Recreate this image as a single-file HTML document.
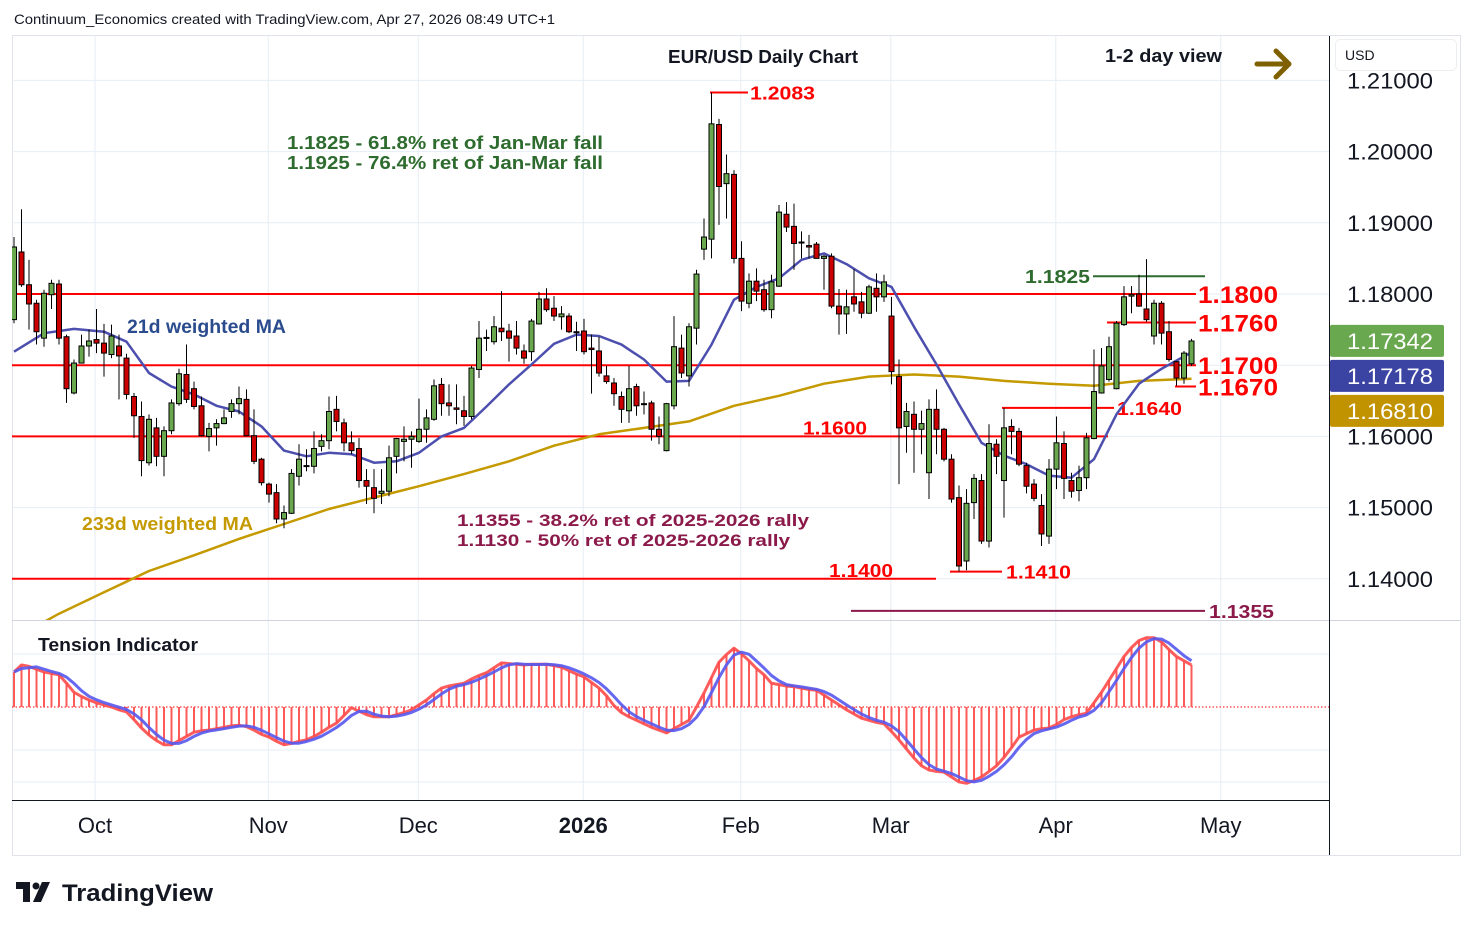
<!DOCTYPE html>
<html><head><meta charset="utf-8">
<style>
body{margin:0;background:#fff;}
svg{display:block;font-family:"Liberation Sans",sans-serif;}
</style></head>
<body>
<svg id="chart" width="1474" height="930" viewBox="0 0 1474 930" xmlns="http://www.w3.org/2000/svg">
  <rect x="0" y="0" width="1474" height="930" fill="#fff"/>
  <text x="14" y="24" font-size="14" fill="#131722" textLength="541" lengthAdjust="spacingAndGlyphs">Continuum_Economics created with TradingView.com, Apr 27, 2026 08:49 UTC+1</text>
  <rect x="12.5" y="35.5" width="1448" height="820" fill="none" stroke="#e0e3eb"/>
  <g id="grid"></g>
  <g id="levels"></g>
  <g id="pricePane" clip-path="url(#clipPrice)"></g>
  <g id="tensionPane" clip-path="url(#clipTension)"></g>
  <defs>
    <clipPath id="clipPrice"><rect x="12" y="36" width="1317" height="584"/></clipPath>
    <clipPath id="clipTension"><rect x="12" y="628" width="1317" height="172"/></clipPath>
  </defs>
  <line x1="12" y1="620.5" x2="1460" y2="620.5" stroke="#d1d4dc" stroke-width="1"/>
  <line x1="12" y1="800.5" x2="1329" y2="800.5" stroke="#131722" stroke-width="1"/>
  <line x1="1329.5" y1="36" x2="1329.5" y2="855" stroke="#131722" stroke-width="1"/>
  <g id="axisLabels"></g>
  <g id="timeAxis"></g>
  <g id="annotations">
    <text x="668" y="63" font-size="18" font-weight="bold" textLength="190" lengthAdjust="spacingAndGlyphs" fill="#131722">EUR/USD Daily Chart</text>
    <text x="1105" y="62" font-size="18" font-weight="bold" textLength="117" lengthAdjust="spacingAndGlyphs" fill="#131722">1-2 day view</text>
    <g stroke="#7f6000" stroke-width="5" stroke-linecap="round" stroke-linejoin="round" fill="none">
      <line x1="1257" y1="64" x2="1288" y2="64"/><polyline points="1276,51 1289,64 1276,77"/>
    </g>
    <text x="287" y="149" font-size="18" font-weight="bold" textLength="316" lengthAdjust="spacingAndGlyphs" fill="#2e6b2e">1.1825 - 61.8% ret of Jan-Mar fall</text>
    <text x="287" y="169" font-size="18" font-weight="bold" textLength="316" lengthAdjust="spacingAndGlyphs" fill="#2e6b2e">1.1925 - 76.4% ret of Jan-Mar fall</text>
    <text x="127" y="333" font-size="19" font-weight="bold" textLength="159" lengthAdjust="spacingAndGlyphs" fill="#2a4b8d">21d weighted MA</text>
    <text x="82" y="530" font-size="18" font-weight="bold" textLength="171" lengthAdjust="spacingAndGlyphs" fill="#c49a00">233d weighted MA</text>
    <text x="457" y="526" font-size="17" font-weight="bold" textLength="352" lengthAdjust="spacingAndGlyphs" fill="#8b1a4a">1.1355 - 38.2% ret of 2025-2026 rally</text>
    <text x="457" y="546" font-size="17" font-weight="bold" textLength="333" lengthAdjust="spacingAndGlyphs" fill="#8b1a4a">1.1130 - 50% ret of 2025-2026 rally</text>
    <text x="38" y="651" font-size="18" font-weight="bold" textLength="160" lengthAdjust="spacingAndGlyphs" fill="#131722">Tension Indicator</text>
  </g>
  <g>
    <rect x="1335.5" y="39.5" width="121" height="31" rx="5" fill="#fff" stroke="#eceef2"/>
    <text x="1345" y="60" font-size="14" fill="#131722">USD</text>
  </g>
  <g>
    <path d="M16 882 h14 v20 h-7 v-13 h-7z" fill="#131722"/>
    <circle cx="36" cy="886" r="3.5" fill="#131722"/>
    <path d="M42 882 h8 l-9 20 h-8z" fill="#131722"/>
    <text x="62" y="901" font-size="24" font-weight="bold" textLength="151" lengthAdjust="spacingAndGlyphs" fill="#131722">TradingView</text>
  </g>
</svg>
<script>
// ---- data ----
const candleOHLC = [
[1.1764,1.1880,1.1759,1.1866],[1.1859,1.1919,1.1810,1.1813],[1.1813,1.1848,1.1750,1.1786],[1.1787,1.1792,1.1729,1.1747],
[1.1738,1.1806,1.1726,1.1801],[1.1799,1.1820,1.1779,1.1815],[1.1814,1.1820,1.1729,1.1738],[1.1740,1.1743,1.1647,1.1667],
[1.1661,1.1708,1.1659,1.1703],[1.1703,1.1743,1.1703,1.1727],[1.1727,1.1750,1.1712,1.1734],[1.1736,1.1779,1.1717,1.1731],
[1.1731,1.1758,1.1684,1.1717],[1.1715,1.1757,1.1710,1.1741],[1.1727,1.1743,1.1652,1.1713],[1.1710,1.1716,1.1652,1.1659],
[1.1656,1.1661,1.1598,1.1629],[1.1628,1.1649,1.1544,1.1566],[1.1563,1.1631,1.1559,1.1624],[1.1612,1.1626,1.1558,1.1572],
[1.1572,1.1614,1.1544,1.1608],[1.1608,1.1652,1.1603,1.1647],[1.1646,1.1695,1.1643,1.1688],[1.1687,1.1729,1.1647,1.1652],
[1.1667,1.1677,1.1638,1.1642],[1.1643,1.1656,1.1600,1.1601],[1.1600,1.1619,1.1579,1.1611],[1.1612,1.1624,1.1587,1.1618],
[1.1618,1.1638,1.1617,1.1626],[1.1635,1.1652,1.1626,1.1646],[1.1646,1.1670,1.1631,1.1653],[1.1652,1.1666,1.1600,1.1601],
[1.1601,1.1638,1.1561,1.1565],[1.1568,1.1570,1.1531,1.1535],[1.1533,1.1535,1.1507,1.1519],[1.1521,1.1533,1.1478,1.1484],
[1.1484,1.1503,1.1471,1.1493],[1.1492,1.1554,1.1491,1.1548],[1.1544,1.1589,1.1531,1.1568],[1.1558,1.1582,1.1551,1.1559],
[1.1558,1.1607,1.1548,1.1583],[1.1586,1.1603,1.1579,1.1594],[1.1594,1.1656,1.1582,1.1635],[1.1638,1.1657,1.1607,1.1621],
[1.1619,1.1625,1.1579,1.1591],[1.1591,1.1607,1.1575,1.1580],[1.1583,1.1598,1.1528,1.1538],[1.1538,1.1554,1.1505,1.1530],
[1.1528,1.1554,1.1492,1.1513],[1.1520,1.1554,1.1505,1.1523],[1.1523,1.1587,1.1516,1.1570],[1.1572,1.1598,1.1548,1.1597],
[1.1593,1.1614,1.1565,1.1596],[1.1596,1.1607,1.1556,1.1600],[1.1593,1.1653,1.1591,1.1610],[1.1610,1.1638,1.1591,1.1626],
[1.1624,1.1680,1.1622,1.1671],[1.1673,1.1682,1.1629,1.1646],[1.1647,1.1673,1.1629,1.1643],[1.1640,1.1673,1.1617,1.1638],
[1.1636,1.1657,1.1615,1.1628],[1.1628,1.1699,1.1624,1.1696],[1.1694,1.1762,1.1682,1.1738],[1.1738,1.1750,1.1720,1.1739],
[1.1733,1.1769,1.1729,1.1754],[1.1752,1.1804,1.1734,1.1747],[1.1748,1.1758,1.1705,1.1738],[1.1741,1.1762,1.1715,1.1724],
[1.1720,1.1729,1.1702,1.1710],[1.1719,1.1765,1.1706,1.1762],[1.1758,1.1803,1.1757,1.1793],[1.1793,1.1808,1.1775,1.1778],
[1.1780,1.1797,1.1762,1.1769],[1.1768,1.1783,1.1750,1.1772],[1.1769,1.1773,1.1745,1.1747],[1.1747,1.1761,1.1720,1.1747],
[1.1748,1.1765,1.1715,1.1719],[1.1724,1.1743,1.1660,1.1722],[1.1720,1.1740,1.1684,1.1689],[1.1685,1.1699,1.1674,1.1677],
[1.1675,1.1682,1.1643,1.1660],[1.1656,1.1663,1.1619,1.1638],[1.1636,1.1699,1.1619,1.1667],[1.1670,1.1674,1.1629,1.1643],
[1.1646,1.1663,1.1631,1.1645],[1.1647,1.1650,1.1594,1.1610],[1.1610,1.1628,1.1589,1.1600],[1.1580,1.1647,1.1579,1.1646],
[1.1643,1.1769,1.1638,1.1726],[1.1724,1.1743,1.1682,1.1689],[1.1685,1.1759,1.1670,1.1754],[1.1752,1.1834,1.1729,1.1828],
[1.1863,1.1906,1.1848,1.1880],[1.1877,1.2083,1.1850,1.2039],[1.2038,1.2046,1.1897,1.1951],[1.1955,1.1996,1.1906,1.1969],
[1.1968,1.1974,1.1843,1.1850],[1.1850,1.1874,1.1776,1.1790],[1.1787,1.1829,1.1780,1.1818],[1.1818,1.1836,1.1790,1.1804],
[1.1806,1.1820,1.1775,1.1778],[1.1778,1.1827,1.1766,1.1817],[1.1811,1.1925,1.1810,1.1915],[1.1912,1.1929,1.1887,1.1894],
[1.1895,1.1927,1.1834,1.1871],[1.1872,1.1888,1.1850,1.1873],[1.1868,1.1883,1.1850,1.1866],[1.1870,1.1873,1.1850,1.1850],
[1.1850,1.1855,1.1806,1.1853],[1.1853,1.1857,1.1780,1.1783],[1.1783,1.1807,1.1743,1.1772],[1.1772,1.1806,1.1744,1.1782],
[1.1796,1.1835,1.1775,1.1786],[1.1789,1.1803,1.1766,1.1773],[1.1773,1.1813,1.1772,1.1810],[1.1808,1.1829,1.1775,1.1796],
[1.1796,1.1827,1.1789,1.1817],[1.1769,1.1796,1.1673,1.1691],[1.1684,1.1708,1.1533,1.1612],[1.1614,1.1647,1.1577,1.1635],
[1.1631,1.1649,1.1549,1.1610],[1.1610,1.1636,1.1575,1.1618],[1.1549,1.1652,1.1512,1.1638],[1.1638,1.1666,1.1575,1.1610],
[1.1610,1.1612,1.1565,1.1568],[1.1568,1.1575,1.1507,1.1512],[1.1514,1.1531,1.1410,1.1418],[1.1425,1.1526,1.1412,1.1506],
[1.1507,1.1547,1.1484,1.1541],[1.1538,1.1547,1.1449,1.1453],[1.1453,1.1617,1.1444,1.1590],[1.1589,1.1596,1.1547,1.1572],
[1.1538,1.1640,1.1486,1.1612],[1.1614,1.1624,1.1575,1.1607],[1.1607,1.1612,1.1558,1.1561],[1.1559,1.1563,1.1520,1.1530],
[1.1533,1.1540,1.1509,1.1513],[1.1503,1.1519,1.1446,1.1463],[1.1460,1.1568,1.1449,1.1554],[1.1554,1.1628,1.1526,1.1591],
[1.1590,1.1607,1.1512,1.1541],[1.1538,1.1549,1.1514,1.1523],[1.1524,1.1559,1.1509,1.1542],[1.1542,1.1605,1.1526,1.1598],
[1.1597,1.1722,1.1596,1.1663],[1.1661,1.1724,1.1660,1.1699],[1.1680,1.1740,1.1677,1.1726],[1.1667,1.1762,1.1666,1.1759],
[1.1757,1.1811,1.1755,1.1796],[1.1797,1.1811,1.1773,1.1799],[1.1800,1.1827,1.1782,1.1783],[1.1779,1.1849,1.1761,1.1764],
[1.1741,1.1792,1.1729,1.1787],[1.1787,1.1790,1.1729,1.1745],[1.1747,1.1762,1.1705,1.1708],[1.1705,1.1706,1.1671,1.1682],
[1.1682,1.1720,1.1674,1.1717],[1.1702,1.1737,1.1699,1.1734]
];
const ma21Index = [0,4,8,12,15,18,21,24,27,30,33,36,39,42,45,48,51,54,57,60,63,66,69,72,75,78,81,84,87,90,93,96,99,102,105,108,111,114,117,120,123,126,129,132,135,138,141,144,147,150,153,157];
const ma21Value = [1.1719,1.1745,1.1751,1.1747,1.1733,1.1689,1.1670,1.1659,1.1643,1.1635,1.1614,1.1580,1.1572,1.1577,1.1575,1.1563,1.1565,1.1577,1.1600,1.1612,1.1642,1.1673,1.1701,1.1730,1.1743,1.1741,1.1729,1.1708,1.1677,1.1678,1.1729,1.1792,1.1810,1.1822,1.1848,1.1857,1.1842,1.1822,1.1810,1.1754,1.1701,1.1645,1.1591,1.1573,1.1561,1.1545,1.1542,1.1568,1.1631,1.1674,1.1695,1.1718];
const ma233Index = [0,6,12,18,24,30,36,42,48,54,60,66,72,78,84,90,96,102,108,114,120,126,132,138,144,150,157];
const ma233Value = [1.1316,1.1351,1.1381,1.1411,1.1433,1.1456,1.1477,1.1498,1.1514,1.1530,1.1547,1.1565,1.1587,1.1603,1.1612,1.1621,1.1643,1.1657,1.1674,1.1684,1.1687,1.1684,1.1678,1.1674,1.1671,1.1678,1.1681];
const tensionValue = [0.50,0.60,0.58,0.54,0.50,0.48,0.46,0.34,0.21,0.15,0.10,0.06,0.03,0.00,-0.04,-0.07,-0.18,-0.30,-0.40,-0.48,-0.54,-0.54,-0.48,-0.42,-0.36,-0.34,-0.33,-0.31,-0.29,-0.27,-0.26,-0.28,-0.33,-0.39,-0.43,-0.49,-0.54,-0.52,-0.49,-0.47,-0.42,-0.36,-0.29,-0.23,-0.12,-0.01,-0.06,-0.11,-0.14,-0.14,-0.14,-0.11,-0.08,-0.04,0.03,0.10,0.19,0.27,0.30,0.32,0.34,0.40,0.45,0.49,0.56,0.63,0.62,0.61,0.60,0.61,0.61,0.61,0.59,0.57,0.52,0.47,0.43,0.35,0.27,0.16,0.02,-0.08,-0.14,-0.19,-0.24,-0.29,-0.33,-0.37,-0.31,-0.25,-0.19,0.00,0.20,0.42,0.64,0.75,0.84,0.76,0.66,0.55,0.46,0.34,0.32,0.30,0.29,0.27,0.25,0.24,0.17,0.10,0.03,-0.04,-0.10,-0.16,-0.19,-0.22,-0.24,-0.35,-0.47,-0.60,-0.73,-0.84,-0.90,-0.92,-0.93,-1.00,-1.07,-1.09,-1.05,-1.00,-0.92,-0.84,-0.72,-0.58,-0.43,-0.38,-0.33,-0.31,-0.30,-0.25,-0.18,-0.14,-0.11,-0.09,0.06,0.21,0.38,0.55,0.72,0.85,0.95,0.99,0.99,0.93,0.82,0.72,0.66,0.60];
const priceTicks = [1.21,1.20,1.19,1.18,1.16,1.15,1.14];
const priceTickLabels = ["1.21000","1.20000","1.19000","1.18000","1.16000","1.15000","1.14000"];
const gridPrices = [1.21,1.20,1.19,1.18,1.17,1.16,1.15,1.14];
const monthIndex = [10.8,33.9,53.9,75.9,96.9,116.9,138.9,160.9];
const monthLabels = ["Oct","Nov","Dec","2026","Feb","Mar","Apr","May"];
const lastValues = [1.17342,1.17178,1.16810];
const lastValueColors = ["#6aa84f","#3c44a3","#c29300"];

// ---- scales ----
const NS = "http://www.w3.org/2000/svg";
function xOf(i){ return 14 + 7.5*i; }
function yOf(p){ return 294 + (1.18 - p)*7120; }
function tY(v){ return 707 - v*70; }
function mk(tag, attrs, parent){
  const e = document.createElementNS(NS, tag);
  for (const k in attrs) e.setAttribute(k, attrs[k]);
  parent.appendChild(e); return e;
}
const grid = document.getElementById('grid');
const pane = document.getElementById('pricePane');
const tpane = document.getElementById('tensionPane');
const levels = document.getElementById('levels');
const axisL = document.getElementById('axisLabels');
const timeAx = document.getElementById('timeAxis');

// grid
gridPrices.forEach(p=>{
  const l = mk('line',{x1:12,x2:1329,y1:yOf(p),y2:yOf(p),stroke:'#e6edf4','stroke-width':1},grid);
  
  
});
[654,750,782].forEach(y=>{
  const l = mk('line',{x1:12,x2:1329,y1:y,y2:y,stroke:'#e6edf4','stroke-width':1},grid);
  
  
});
monthIndex.forEach(i=>{
  const l = mk('line',{x1:xOf(i),x2:xOf(i),y1:36,y2:800,stroke:'#e6edf4','stroke-width':1},grid);
  
  
});

// level lines
function level(p,x1,x2,color,w,name){
  const l = mk('line',{x1:x1,x2:x2,y1:yOf(p),y2:yOf(p),stroke:color,'stroke-width':w},levels);
  
  
}
function label(txt,x,y,color,size,len,name){
  const t = mk('text',{x:x,y:y,fill:color,'font-size':size,'font-weight':'bold',textLength:len,lengthAdjust:'spacingAndGlyphs'},levels);
  t.textContent = txt;
  
  
}
level(1.18,12,1196,'#ff0000',2,'level-1-1800');
level(1.176,1107,1196,'#ff0000',2,'level-1-1760');
level(1.17,12,1196,'#ff0000',2,'level-1-1700');
level(1.167,1175,1196,'#ff0000',2,'level-1-1670');
level(1.16,12,1108,'#ff0000',2,'level-1-1600');
level(1.164,1002,1114,'#ff0000',2,'level-1-1640');
level(1.14,12,936,'#ff0000',2,'level-1-1400');
level(1.141,950,1002,'#ff0000',2,'level-1-1410');
level(1.2083,710,748,'#ff0000',2,'level-1-2083');
level(1.1825,1093,1205,'#2e6b2e',2,'level-1-1825');
level(1.1355,851,1205,'#8b1a4a',2,'level-1-1355');
label('1.1800',1198,yOf(1.18)+9,'#ff0000',24,80,'label-1-1800');
label('1.1760',1198,yOf(1.176)+9,'#ff0000',24,80,'label-1-1760');
label('1.1700',1198,yOf(1.17)+9,'#ff0000',24,80,'label-1-1700');
label('1.1670',1198,yOf(1.167)+9,'#ff0000',24,80,'label-1-1670');
label('1.1600',803,yOf(1.16)-2,'#ff0000',18,64,'label-1-1600');
label('1.1640',1117,yOf(1.164)+7,'#ff0000',18,65,'label-1-1640');
label('1.1400',829,yOf(1.14)-2,'#ff0000',18,64,'label-1-1400');
label('1.1410',1006,yOf(1.141)+7,'#ff0000',18,65,'label-1-1410');
label('1.2083',750,yOf(1.2083)+7,'#ff0000',18,65,'label-1-2083');
label('1.1825',1025,yOf(1.1825)+7,'#2e6b2e',18,65,'label-1-1825');
label('1.1355',1209,yOf(1.1355)+7,'#8b1a4a',18,65,'label-1-1355');

// moving averages
function maPath(idx, vals, color, name){
  const d = idx.map((i,k)=>(k?'L':'M')+xOf(i).toFixed(1)+' '+yOf(vals[k]).toFixed(1)).join(' ');
  const p = mk('path',{d:d,fill:'none',stroke:color,'stroke-width':2.5,'stroke-linejoin':'round'},pane);
  
  
}
maPath(ma233Index, ma233Value, '#c49a00', 'ma233-line');
maPath(ma21Index, ma21Value, '#4c4fae', 'ma21-line');

// candles
candleOHLC.forEach((c,i)=>{
  const [o,h,l,cl] = c;
  const x = xOf(i);
  const g = mk('g',{},pane);
  
  
  mk('line',{x1:x,x2:x,y1:yOf(h),y2:yOf(l),stroke:'#000','stroke-width':1},g);
  const top = yOf(Math.max(o,cl)), bot = yOf(Math.min(o,cl));
  mk('rect',{x:x-2.5,y:top,width:5,height:Math.max(1,bot-top),fill:cl>=o?'#6aa84f':'#cc0000',stroke:'#000','stroke-width':1},g);
});

// tension indicator
const zl = mk('line',{x1:12,x2:1329,y1:707,y2:707,stroke:'#ff0000','stroke-width':1,'stroke-dasharray':'1.5,2'},tpane);


tensionValue.forEach((v,i)=>{
  const b = mk('line',{x1:xOf(i),x2:xOf(i),y1:707,y2:tY(v),stroke:'#ff5a5a','stroke-width':2},tpane);
  
  
});
const redD = tensionValue.map((v,i)=>(i?'L':'M')+xOf(i).toFixed(1)+' '+tY(v).toFixed(1)).join(' ');
const rl = mk('path',{d:redD,fill:'none',stroke:'#ff4a4a','stroke-width':3,'stroke-linejoin':'round','stroke-opacity':0.9},tpane);


const sig = tensionValue.map((v,i)=>{ const s=tensionValue.slice(Math.max(0,i-2),i+1); return s.reduce((a,b)=>a+b,0)/s.length; });
const blueD = sig.map((v,i)=>(i?'L':'M')+xOf(i).toFixed(1)+' '+tY(v).toFixed(1)).join(' ');
const bl = mk('path',{d:blueD,fill:'none',stroke:'#5558ee','stroke-width':3,'stroke-linejoin':'round','stroke-opacity':0.9},tpane);



// price axis
priceTicks.forEach((p,k)=>{
  const t = mk('text',{x:1347,y:yOf(p)+8,'font-size':22,fill:'#131722',textLength:86,lengthAdjust:'spacingAndGlyphs'},axisL);
  t.textContent = priceTickLabels[k];
  
  
});
// badges stacked (avoid overlap like the reference)
let prevBottom = -1e9;
lastValues.forEach((v,k)=>{
  let y = yOf(v) - 16;
  if (y < prevBottom + 3) y = prevBottom + 3;
  prevBottom = y + 32;
  const g = mk('g',{},axisL);
  
  
  mk('rect',{x:1330,y:y,width:114,height:32,rx:2,fill:lastValueColors[k]},g);
  const t = mk('text',{x:1347,y:y+24,'font-size':22,fill:'#fff',textLength:86,lengthAdjust:'spacingAndGlyphs'},g);
  t.textContent = v.toFixed(5);
});

// time axis
monthLabels.forEach((m,k)=>{
  const t = mk('text',{x:xOf(monthIndex[k]),y:833,'font-size':22,fill:'#131722','text-anchor':'middle','font-weight':m==='2026'?'bold':'normal'},timeAx);
  t.textContent = m;
  
  
});
</script>
</body></html>
